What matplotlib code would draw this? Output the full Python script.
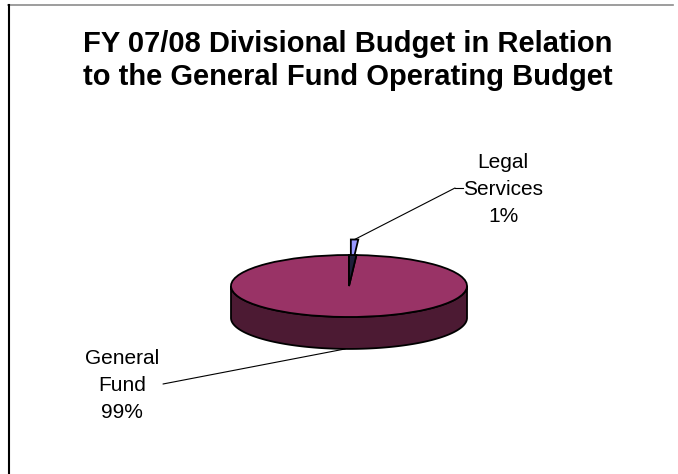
import numpy as np
import matplotlib
matplotlib.use("Agg")
import matplotlib.pyplot as plt
from matplotlib.patches import Polygon, Wedge
from matplotlib.lines import Line2D

# Budget shares
categories = ["Legal Services", "General Fund"]
values = [1, 99]
label_lines = [["Legal", "Services"], ["General", "Fund"]]
title_lines = ["FY 07/08 Divisional Budget in Relation",
               "to the General Fund Operating Budget"]

top_colors = ["#9999FF", "#993366"]
side_color = "#4C1A33"
gap_color = "#1E1E3A"

W, H = 678, 474
plt.rcParams["font.family"] = ["Liberation Sans", "DejaVu Sans"]
fig = plt.figure(figsize=(W / 100, H / 100), dpi=100)
fig.patch.set_facecolor("white")

# chart-area border (top and left edges visible)
fig.add_artist(Line2D([8 / W, 673 / W], [1 - 5 / H, 1 - 5 / H],
                      color="#8c8c8c", lw=1.2, transform=fig.transFigure))
fig.add_artist(Line2D([8.5 / W, 8.5 / W], [1 - 5 / H, 0],
                      color="black", lw=1.5, transform=fig.transFigure))

# title
for line, base in zip(title_lines, [52, 85]):
    fig.text(348 / W, 1 - base / H, line, ha="center", va="baseline",
             fontsize=21, fontweight="bold", color="black")

# pie placement (pixels): centre, radii
CX, CY, RX, RY = 349, 286, 118, 31
depth = 1.03      # extrusion, in radius units
explode = [0.5, 0.0]

x0, x1, y0, y1 = 221, 477, 225, 365
ax = fig.add_axes([x0 / W, 1 - y1 / H, (x1 - x0) / W, (y1 - y0) / H])
wedges, _ = ax.pie(values, colors=top_colors, startangle=90, counterclock=False,
                   explode=explode,
                   wedgeprops=dict(edgecolor="black", linewidth=1.3))
ax.set_aspect("auto")
ax.set_xlim((x0 - CX) / RX, (x1 - CX) / RX)
ax.set_ylim((CY - y1) / RY, (CY - y0) / RY)
ax.axis("off")

small, big = wedges
small.set_zorder(2)
big.set_zorder(4)

# front side of the main slice
cx, cy = big.center
a = np.radians(np.linspace(big.theta1, big.theta2, 720))
a = a[np.sin(a) <= 0]
top = np.column_stack([cx + np.cos(a), cy + np.sin(a)])
bot = top[::-1] - [0, depth]
ax.add_patch(Polygon(np.vstack([top, bot]), closed=True, facecolor=side_color,
                     edgecolor="black", linewidth=1.3, zorder=3))

# opening left by the exploded slice
ax.add_patch(Wedge((cx, cy), 1, small.theta1, small.theta2, facecolor=gap_color,
                   edgecolor="black", linewidth=1.3, zorder=5))

# labels with leader lines
def to_fig(px, py):
    return px / W, 1 - py / H

mid_small = np.radians((small.theta1 + small.theta2) / 2)
sc = small.center
tip_small = (sc[0] + np.cos(mid_small), sc[1] + np.sin(mid_small))
mid_big = np.radians((big.theta1 + big.theta2) / 2)
tip_big = (cx + np.cos(mid_big), cy + np.sin(mid_big) - depth)

ax.annotate("", xy=tip_small, xycoords="data", xytext=to_fig(455, 188),
            textcoords="figure fraction",
            arrowprops=dict(arrowstyle="-", shrinkA=0, shrinkB=0, lw=0.8,
                            color="black"))
fig.add_artist(Line2D([455 / W, 463 / W], [1 - 188 / H, 1 - 188 / H],
                      color="black", lw=0.8, transform=fig.transFigure))
ax.annotate("", xy=tip_big, xycoords="data", xytext=to_fig(163, 384),
            textcoords="figure fraction",
            arrowprops=dict(arrowstyle="-", shrinkA=0, shrinkB=0, lw=0.8,
                            color="black"))

label_spots = [(503, [168, 195, 222]), (122, [364, 391, 418])]
for lines, v, (lx, bases) in zip(label_lines, values, label_spots):
    for txt, b in zip(lines + [f"{v:.0f}%"], bases):
        fig.text(lx / W, 1 - b / H, txt, ha="center", va="baseline",
                 fontsize=15, color="black")

fig.savefig("out.png", dpi=100, facecolor="white")
